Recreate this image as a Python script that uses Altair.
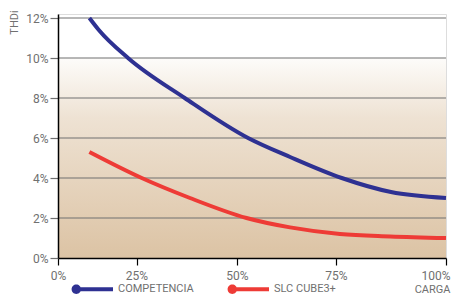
import altair as alt
import pandas as pd

# ---- data ----
series_names = ["COMPETENCIA", "SLC CUBE3+"]
series_colors = ["#2e3192", "#ee3b36"]

load_comp = [10, 13, 22.3, 37, 52.8, 63.4, 76.3, 87.5, 100]
thdi_comp = [12.0, 11.4, 10.0, 8.0, 6.0, 5.05, 4.0, 3.3, 3.0]

load_slc = [10, 26.3, 38.3, 52.4, 63.4, 75.9, 87.3, 100]
thdi_slc = [5.3, 4.0, 3.0, 2.0, 1.53, 1.2, 1.08, 1.0]

x_ticks = [0, 25, 50, 75, 100]
y_ticks = [0, 2, 4, 6, 8, 10, 12]
band_top = [10]

FONT = "Roboto, Liberation Sans, sans-serif"
GRAY = "#707070"

rows = []
for x, y in zip(load_comp, thdi_comp):
    rows.append({"carga": x, "thdi": y, "serie": series_names[0]})
for x, y in zip(load_slc, thdi_slc):
    rows.append({"carga": x, "thdi": y, "serie": series_names[1]})
df = pd.DataFrame(rows)

band_df = pd.DataFrame({"x0": [x_ticks[0]], "x1": [x_ticks[-1]], "y0": [0], "y1": band_top})
grid_df = pd.DataFrame({"y": y_ticks[1:]})

xscale = alt.Scale(domain=x_ticks, range=[0, 78.5, 179, 278, 388])
yscale = alt.Scale(domain=[0, 12.2], nice=False, zero=True)
cscale = alt.Scale(domain=series_names, range=series_colors)

xaxis = alt.Axis(values=x_ticks, labelExpr="datum.value + '%'", grid=False,
                 domainColor="#000000", domainWidth=1.5, tickColor="#000000",
                 tickSize=7, tickWidth=1.2, labelFont=FONT, labelFontSize=12,
                 labelColor=GRAY, labelPadding=5, labelFlush=False,
                 labelAlign={"condition": {"test": "datum.value == 100", "value": "right"},
                             "value": "center"},
                 labelOffset={"condition": {"test": "datum.value == 100", "value": 4},
                              "value": 0},
                 zindex=1,
                 title="CARGA", titleFont=FONT,
                 titleFontSize=11, titleFontWeight="normal", titleColor=GRAY,
                 titleX=392, titleY=34.5, titleAlign="right",
                 titleBaseline="alphabetic")
yaxis = alt.Axis(values=y_ticks, labelExpr="datum.value + '%'", grid=False,
                 domainColor="#000000", domainWidth=1.5, tickColor=GRAY,
                 tickSize=8, tickWidth=1.2, labelFont=FONT, labelFontSize=12,
                 labelColor=GRAY, labelPadding=2, zindex=1,
                 title="THDi", titleFont=FONT,
                 titleFontSize=11, titleFontWeight="normal", titleColor=GRAY,
                 titleAngle=270, titleX=-44, titleY=8, titleAlign="center",
                 titleBaseline="middle")

grad = alt.Gradient(
    gradient="linear",
    stops=[alt.GradientStop(color="#fdfcfa", offset=0),
           alt.GradientStop(color="#eee2d3", offset=0.3),
           alt.GradientStop(color="#dcc3a4", offset=1)],
    x1=0, x2=0, y1=0, y2=1)

band = alt.Chart(band_df).mark_rect(fill=grad).encode(
    x=alt.X("x0:Q", scale=xscale, axis=xaxis),
    x2="x1:Q",
    y=alt.Y("y0:Q", scale=yscale, axis=yaxis),
    y2="y1:Q",
)

grid = alt.Chart(grid_df).mark_rule(color=GRAY, strokeWidth=1.2).encode(
    y=alt.Y("y:Q", scale=yscale),
)

sym_path = ("M -1.02 0 A 0.23 0.23 0 1 1 -0.56 0 A 0.23 0.23 0 1 1 -1.02 0 Z "
            "M -0.79 -0.1 L 1 -0.1 L 1 0.1 L -0.79 0.1 Z")

lines = alt.Chart(df).mark_line(strokeWidth=4, interpolate="monotone").encode(
    x=alt.X("carga:Q", scale=xscale),
    y=alt.Y("thdi:Q", scale=yscale),
    stroke=alt.Stroke("serie:N", scale=cscale, legend=None),
)

legend_pts = alt.Chart(df).mark_point(filled=True, size=0, strokeWidth=0).encode(
    x=alt.X("carga:Q", scale=xscale),
    y=alt.Y("thdi:Q", scale=yscale),
    fill=alt.Fill("serie:N", scale=cscale,
                  legend=alt.Legend(
                      title=None, orient="none", legendX=14, legendY=254.5,
                      direction="horizontal", symbolType=sym_path,
                      symbolSize=1681, symbolStrokeWidth=0, labelFont=FONT,
                      labelFontSize=11, labelColor=GRAY, labelOffset=5,
                      columnPadding=33, padding=0, symbolOpacity=1)),
)

chart = alt.layer(band, grid, legend_pts, lines).properties(
    width=388, height=244,
    autosize=alt.AutoSizeParams(type="none"),
    padding={"left": 50, "top": 6, "right": 5, "bottom": 36},
).configure_view(stroke=None).configure(background="white")

chart.save("out.html", embed_options={"renderer": "svg", "actions": False})
